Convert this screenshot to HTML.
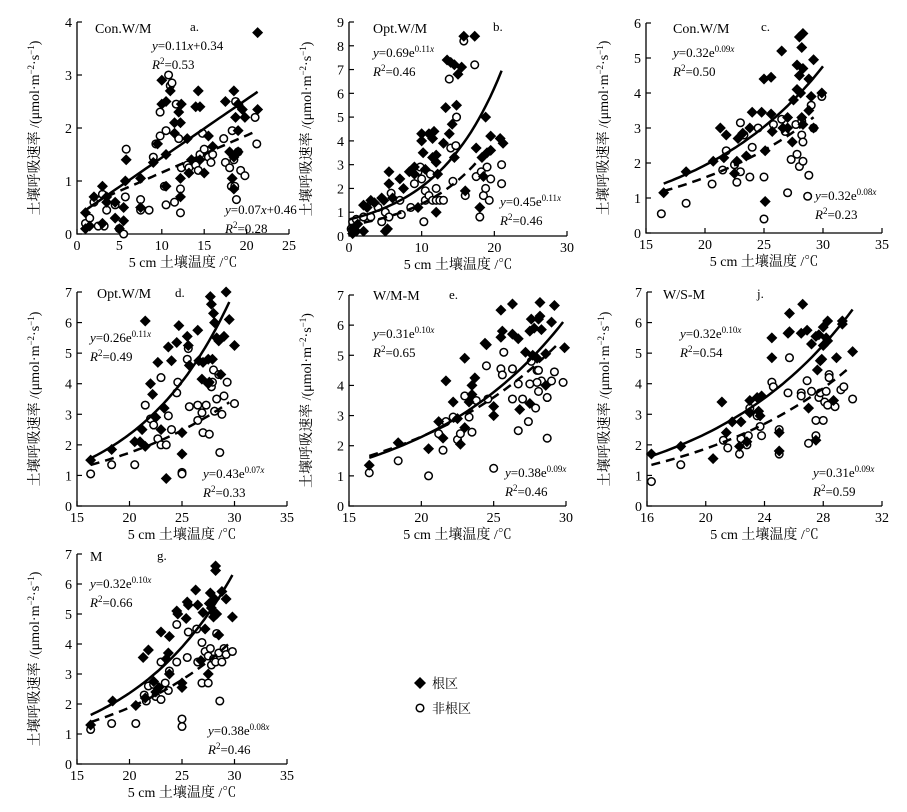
<!DOCTYPE html>
<html><head><meta charset="utf-8">
<style>
html,body{margin:0;padding:0;background:#fff;}
svg{display:block;font-family:"Liberation Serif","Noto Serif CJK SC","Noto Sans CJK SC",serif;}
</style></head>
<body>
<svg id="chart" width="907" height="812" viewBox="0 0 907 812">
  <g>
    <path d="M420,677 L426,683 L420,689 L414,683 Z" fill="#000"/>
    <text x="432" y="688" font-size="13">根区</text>
    <circle cx="420" cy="708" r="3.8" fill="#fff" stroke="#000" stroke-width="1.5"/>
    <text x="432" y="713" font-size="13">非根区</text>
  </g>
</svg>
<script>
// ---- data arrays ----
const panelIds = ['a','b','c','d','e','j','g'];
const panelTitles = ['Con.W/M','Opt.W/M','Con.W/M','Opt.W/M','W/M-M','W/S-M','M'];
const panelLetters = ['a.','b.','c.','d.','e.','j.','g.'];
const xDomains = [[0,25],[0,30],[15,35],[15,35],[15,30],[16,32],[15,35]];
const yDomains = [[0,4],[0,9],[0,6],[0,7],[0,7],[0,7],[0,7]];
const xTickSteps = [5,10,5,5,5,4,5];
const yTickSteps = [1,1,1,1,1,1,1];
// fit types and coefficients (solid = root, dashed = non-root)
const fitTypes = ['lin','exp','exp','exp','exp','exp','exp'];
const rootFitA = [0.11,0.69,0.32,0.26,0.31,0.32,0.32];
const rootFitB = [0.34,0.11,0.09,0.11,0.10,0.10,0.10];
const rootFitRange = [[1,21.3],[0,21],[16.5,30],[16.3,29.5],[16.4,29.8],[16.3,30],[16.3,29.8]];
const nonFitA = [0.07,0.45,0.32,0.43,0.38,0.31,0.38];
const nonFitB = [0.46,0.11,0.08,0.07,0.09,0.09,0.08];
const nonFitRange = [[3.5,21],[0,17.5],[16.5,29.2],[16.3,29.5],[16.4,29.3],[16.3,29.8],[16.3,29.8]];
const rootEqText = ['0.11|x|+0.34','0.69e|0.11x','0.32e|0.09x','0.26e|0.11x','0.31e|0.10x','0.32e|0.10x','0.32e|0.10x'];
const rootR2 = ['0.53','0.46','0.50','0.49','0.65','0.54','0.66'];
const nonEqText = ['0.07|x|+0.46','0.45e|0.11x','0.32e|0.08x','0.43e|0.07x','0.38e|0.09x','0.31e|0.09x','0.38e|0.08x'];
const nonR2 = ['0.28','0.46','0.23','0.33','0.46','0.59','0.46'];

const rootX = [
 [1,1,1.5,2,3,3,3.5,3.5,4.5,4.5,5,5.5,5.5,5.8,5.7,7.5,7.5,9,9.5,10,10,10.5,10.5,10.5,11,11.5,11.5,12,12.2,12.3,12.2,12.2,13,13.2,13.5,14,14.3,14.5,14.5,15,15.5,16,17.5,18,18.5,18.3,18.7,19,19,19,19.5,19.8,21.3,21.3,18.5,18.5],
 [0.5,0.5,1,1.2,2,2,2.5,3,3.5,4.5,4.8,5,5.3,5.5,5.5,6,7,7.5,8.3,9,9,9.5,10,10,10.2,10.5,11,11.5,11.7,11.5,12,12,12,12.2,13,13.3,13.5,13.8,14,14.2,14.5,14.5,14.8,15,15.5,15.8,16,17.3,17.5,18,18.3,18.5,18.8,19,19.5,19.5,20.8,21.2],
 [16.5,18.4,20.7,21.3,21.6,21.8,22.5,22.7,22.8,23.2,23.5,23.8,24,24.8,25,25.1,25.1,25.6,25.6,25.7,26.5,26.6,27,27,27.5,27.8,28,27.8,28,28.2,28.3,28.1,28.2,28.3,28.3,28.8,28.8,29,29.2,29.2,29.9,27.4],
 [16.3,18.3,20.5,21,21.2,21.5,21.5,22,22.2,22.5,22.7,23,23.3,23.5,23.7,24,24.5,24.7,25,25,25.5,25.6,25.7,26.5,26.6,26.9,27,27.5,27.5,27.7,27.8,27.9,28,28.1,28.3,28.5,28.7,29,29.2,29.5,30,27.6],
 [16.4,18.4,20.5,21.2,21.7,21.5,22.2,22.5,22.7,23,23,23.5,23.7,23.5,23.3,24.4,24.5,25,25,25.5,25.5,25.6,26.3,26.3,26.7,26.8,27.2,27.5,27.6,27.8,27.7,28,28.1,28.2,28.2,28.3,28.6,28.6,29,29.2,29.9,27.5],
 [16.3,18.3,20.5,21.1,21.4,21.8,22.3,22.4,22.8,23,23,23.5,23.6,23.7,23.8,24.5,24.5,25,25,25.6,25.7,25.7,26.5,26.6,26.9,27,27.2,27.5,27.6,27.7,27.8,27.9,28,28,28.2,28.3,28.3,28.7,28.9,29.3,29.3,30,27.5],
 [16.3,18.4,20.6,21.3,21.8,21.5,22.3,22.5,22.8,23,23.5,23.7,23.8,23.8,24.5,24.6,25,25,25.4,25.5,25.6,26.3,26.5,26.8,27,27.2,27.5,27.6,27.7,27.8,28,28,28.1,28.2,28.2,28.5,28.8,29.2,29.8,28.3]
];
const rootY = [
 [0.1,0.4,0.15,0.7,0.9,0.2,0.6,0.7,0.6,0.3,0.1,0.5,0.25,1.4,1.0,1.05,0.5,1.35,1.7,2.9,2.45,2.5,1.5,0.9,2.7,2.1,1.9,2.3,2.1,2.45,1.05,0.7,1.8,1.15,1.4,2.4,2.7,2.4,1.4,1.15,1.85,1.65,2.5,1.55,2.7,1.05,2.2,1.55,1.95,2.45,2.35,2.2,3.8,2.35,1.45,0.85],
 [0.1,0.3,0.2,0.5,0.2,1.3,1.2,1.5,1.4,1.6,1.5,0.2,0.3,2.2,2.7,1.6,2.4,2.0,2.7,2.9,2.6,1.2,4.3,4.0,3.5,2.8,4.3,4.1,4.4,3.3,3.4,3.1,1.0,2.6,3.9,5.4,7.4,4.3,7.3,4.7,7.2,3.3,5.5,6.8,7.1,8.4,1.9,8.4,3.7,1.2,3.3,2.5,5.0,3.5,4.2,3.6,4.1,3.9],
 [1.15,1.75,2.05,3.0,2.15,2.8,1.7,2.05,2.7,2.85,2.2,3.0,3.45,3.45,4.4,2.35,0.9,4.45,3.4,2.9,5.2,3.0,3.3,3.0,3.8,4.8,4.5,4.1,5.6,5.3,4.7,4.0,3.3,3.1,5.7,4.4,3.5,3.9,4.95,3.0,4.0,2.6],
 [1.5,1.85,2.1,2.1,2.5,6.05,1.95,4.0,3.65,2.9,4.7,2.5,3.2,0.9,5.2,4.75,5.35,5.9,2.4,1.7,5.55,5.25,4.6,5.75,4.75,4.15,4.7,4.8,4.0,6.85,6.6,4.8,6.3,6.0,5.5,5.4,4.3,5.55,7.0,6.1,5.25,4.05],
 [1.35,2.1,1.9,2.8,4.15,2.25,3.45,2.9,2.05,4.9,2.6,4.0,4.25,3.7,3.45,5.4,5.35,3.3,3.0,6.5,5.6,5.8,6.7,5.7,5.55,3.2,5.1,5.8,6.2,5.9,5.0,4.9,6.2,6.3,6.75,5.85,5.05,4.0,6.1,6.65,5.25,3.4],
 [1.7,1.95,1.55,3.4,2.4,2.75,1.95,2.75,2.1,3.45,3.05,3.55,3.1,2.95,3.6,4.85,5.5,2.4,1.8,5.65,6.3,5.7,5.65,6.6,5.75,3.2,5.3,5.55,4.45,5.6,4.75,4.8,5.85,5.25,5.5,6.05,5.4,3.45,4.85,5.95,6.05,5.05,2.15],
 [1.3,2.1,1.95,3.55,3.8,2.2,2.75,2.4,2.55,4.4,3.5,3.7,3.0,4.25,5.1,5.0,2.7,2.55,4.85,5.4,5.3,5.8,5.3,3.45,5.05,4.5,3.0,5.35,5.7,5.2,5.05,4.9,5.5,6.6,6.45,4.3,5.75,5.5,4.9,5.0]
];
const nonX = [
 [1,1.5,2,2.5,3,3.5,3.2,4.5,5,5.5,5.8,5.7,7.5,7.5,8.5,9,9.3,9.8,9.8,10.3,10.5,10.5,10.8,11,11.2,11.5,11.7,12,12.2,12.2,12.3,13,13.2,14,14.3,14.5,14.8,15,15.5,15.8,16,17.3,17.5,18,18.2,18.3,18.5,18.6,18.8,19,19.3,19.8,21,21.2,18.7],
 [0.3,0.5,1,2,3,4,4.5,5,5.5,5.8,7,7.2,8.5,9,9.5,9.8,10,10.3,10.5,10.5,11,11.2,11.5,12,12,12.5,13,13.8,14,14.3,14.7,14.8,15.8,16,17.3,17.5,18,18.2,18.5,18.8,19,19.3,19.5,21,21],
 [16.3,18.4,20.6,21.5,21.8,22.5,22.7,23,23,23.3,23.8,24,24.5,25,25,25.8,26.5,26.8,27,27.3,27.7,27.8,28,28.2,28.3,28.3,28.8,28.7,29,29.2,29.9,28.2],
 [16.3,18.3,20.5,21.5,22,22.3,22.7,23,23,23.5,23.7,24,24.5,24.6,25,25,25.5,25.6,25.7,26.5,26.5,26.9,27,27.3,27.6,27.8,28,28.1,28.3,28.5,28.6,28.8,29,29.3,30,27.9],
 [16.4,18.4,20.5,21.2,21.5,21.7,22.2,22.5,22.7,23,23.3,23.5,23.8,24.5,24.6,25,25.5,25.6,25.7,26.3,26.3,26.7,26.7,27,27.4,27.5,27.6,27.9,28,28.1,28.1,28.3,28.7,28.7,29,29.2,29.8,28],
 [16.3,18.3,21.2,21.5,22.3,22.4,22.8,22.9,23,23.5,23.7,23.8,24.5,24.6,25,25,25.6,25.7,26.5,26.5,26.9,27,27.2,27.5,27.5,27.7,27.8,28,28.1,28.2,28.3,28.4,28.8,29.2,29.4,30,28.4],
 [16.3,18.3,20.6,21.4,21.6,21.8,22.3,22.5,23,23,23.4,23.7,23.8,24.5,24.5,25,25,25.5,25.6,26.4,26.5,26.9,26.9,27.2,27.5,27.5,27.7,27.8,28,28.2,28.3,28.5,28.6,28.8,29,29.2,29.8]
];
const nonY = [
 [0.2,0.3,0.6,0.15,0.75,0.45,0.15,0.55,0.1,0.0,1.6,0.7,0.65,0.45,0.45,1.45,1.7,2.3,1.85,0.9,1.95,0.55,3.0,2.8,2.85,0.6,2.45,1.8,0.85,0.4,1.25,1.3,1.25,1.3,1.2,1.5,1.9,1.6,1.45,1.35,1.5,1.8,1.35,1.25,0.9,1.95,1.4,0.9,0.65,1.55,1.2,1.1,2.2,1.7,2.5],
 [0.3,0.6,0.7,0.8,0.8,1.2,0.6,1.0,0.8,1.8,1.5,0.9,1.2,2.2,2.7,2.9,2.4,0.6,1.9,1.5,1.7,2.6,1.5,2.0,1.5,1.5,1.5,6.6,3.7,2.3,3.8,5.0,8.2,1.7,7.2,2.5,0.8,2.7,1.7,2.0,2.9,1.5,2.4,3.0,2.2],
 [0.55,0.85,1.4,1.8,2.35,1.95,1.45,1.75,3.15,2.8,1.6,2.45,3.0,1.6,0.4,3.1,3.25,2.9,1.15,2.1,3.1,2.25,1.9,2.8,2.6,2.05,1.65,1.05,3.65,3.0,3.9,3.2],
 [1.05,1.35,1.35,3.3,2.85,2.65,2.2,4.2,2.0,2.0,2.95,2.5,3.7,4.05,1.1,1.05,4.8,5.15,3.25,3.3,2.8,3.05,2.4,3.3,2.35,3.9,4.45,3.1,3.5,4.3,1.75,3.0,3.6,4.05,3.35,4.05],
 [1.1,1.5,1.0,2.4,1.85,2.8,2.95,2.2,2.4,3.65,2.95,2.45,3.5,4.65,3.55,1.25,4.55,4.35,5.1,4.55,3.55,4.05,2.5,3.55,2.8,4.05,4.8,3.25,4.5,3.8,4.5,4.15,2.25,3.6,4.15,4.45,4.1,4.1],
 [0.8,1.35,2.15,1.9,1.7,2.2,2.0,2.3,3.2,2.95,2.6,2.3,4.05,3.9,2.5,1.7,3.7,4.85,3.7,3.6,4.1,2.05,3.75,2.8,2.3,3.55,3.7,2.8,3.4,3.75,3.3,4.3,3.25,3.8,3.9,3.5,4.2],
 [1.15,1.35,1.35,2.3,2.1,2.6,2.65,2.25,3.4,2.15,2.7,2.45,3.1,4.65,3.4,1.5,1.25,3.55,4.4,4.5,3.4,4.05,2.7,3.75,2.7,3.6,3.85,3.3,3.5,3.4,4.35,3.7,2.1,3.4,3.85,3.65,3.75]
];

// ---- layout (pixel frames per panel) ----
const frames = [
 {x0:77,x1:289,y0:234,y1:22},
 {x0:349,x1:567,y0:236,y1:22},
 {x0:646,x1:882,y0:233,y1:23},
 {x0:77,x1:287,y0:506,y1:292},
 {x0:349,x1:566,y0:506,y1:295},
 {x0:647,x1:882,y0:506,y1:292},
 {x0:77,x1:287,y0:764,y1:554}
];
const labelPos = [
 {t:[95,28],l:[190,27],e1:[152,45],e2:[225,209]},
 {t:[373,28],l:[493,27],e1:[373,52],e2:[500,201]},
 {t:[673,28],l:[761,27],e1:[673,52],e2:[815,195]},
 {t:[97,293],l:[175,293],e1:[90,337],e2:[203,473]},
 {t:[373,295],l:[449,295],e1:[373,333],e2:[505,472]},
 {t:[663,294],l:[757,294],e1:[680,333],e2:[813,472]},
 {t:[90,556],l:[157,556],e1:[90,583],e2:[208,730]}
];

const NS='http://www.w3.org/2000/svg';
const svg=document.getElementById('chart');
function mk(tag,attrs,parent){const e=document.createElementNS(NS,tag);for(const k in attrs)e.setAttribute(k,attrs[k]);(parent||svg).appendChild(e);return e;}

function eqText(g,x,y,body,r2,isLin){
  const t=mk('text',{x:x,y:y,'font-size':13},g);
  
  
  const parts=body.split('|');
  let s=mk('tspan',{'font-style':'italic'},t);s.textContent='y';
  s=mk('tspan',{},t);s.textContent='='+parts[0];
  if(isLin){
    s=mk('tspan',{'font-style':'italic'},t);s.textContent='x';
    s=mk('tspan',{},t);s.textContent=parts[2];
  }else{
    const num=parts[1].replace('x','');
    s=mk('tspan',{'font-size':9,dy:-5},t);s.textContent=num;
    s=mk('tspan',{'font-size':9,'font-style':'italic'},t);s.textContent='x';
  }
  const t2=mk('text',{x:x,y:y+19,'font-size':13},g);
  
  
  s=mk('tspan',{'font-style':'italic'},t2);s.textContent='R';
  s=mk('tspan',{'font-size':9,dy:-5},t2);s.textContent='2';
  s=mk('tspan',{dy:5},t2);s.textContent='='+r2;
}

panelIds.forEach((id,i)=>{
  const f=frames[i],xd=xDomains[i],yd=yDomains[i];
  const sx=v=>f.x0+(v-xd[0])/(xd[1]-xd[0])*(f.x1-f.x0);
  const sy=v=>f.y0-(v-yd[0])/(yd[1]-yd[0])*(f.y0-f.y1);
  const g=mk('g',{});
  
  

  // axes
  const ax=mk('path',{d:`M${f.x0},${f.y1} L${f.x0},${f.y0} L${f.x1},${f.y0}`,fill:'none',stroke:'#000','stroke-width':1.3},g);
  
  
  for(let v=xd[0];v<=xd[1]+1e-9;v+=xTickSteps[i]){
    const x=sx(v);
    const tk=mk('line',{x1:x,x2:x,y1:f.y0,y2:f.y0-5,stroke:'#000','stroke-width':1.2},g);
    
    
    const tl=mk('text',{x:x,y:f.y0+16,'font-size':14,'text-anchor':'middle'},g);
    
    
    tl.textContent=v;
  }
  for(let v=yd[0];v<=yd[1]+1e-9;v+=yTickSteps[i]){
    const y=sy(v);
    const tk=mk('line',{x1:f.x0,x2:f.x0+5,y1:y,y2:y,stroke:'#000','stroke-width':1.2},g);
    
    
    const tl=mk('text',{x:f.x0-5,y:y+5,'font-size':14,'text-anchor':'end'},g);
    
    
    tl.textContent=v;
  }
  // axis titles
  const xt=mk('text',{x:(f.x0+f.x1)/2,y:f.y0+33,'font-size':14,'text-anchor':'middle'},g);
  
  
  xt.textContent='5 cm 土壤温度 /℃';
  const cy=(f.y0+f.y1)/2, cxp=f.x0-38;
  const yt=mk('text',{x:cxp,y:cy,'font-size':14,'text-anchor':'middle',transform:`rotate(-90 ${cxp} ${cy})`},g);
  
  
  let s=mk('tspan',{},yt);s.textContent='土壤呼吸速率 /(μmol·m';
  s=mk('tspan',{'font-size':9,dy:-5},yt);s.textContent='−2';
  s=mk('tspan',{dy:5},yt);s.textContent='·s';
  s=mk('tspan',{'font-size':9,dy:-5},yt);s.textContent='−1';
  s=mk('tspan',{dy:5},yt);s.textContent=')';

  // labels
  const lp=labelPos[i];
  const tt=mk('text',{x:lp.t[0],y:lp.t[1]+5,'font-size':14},g);
  
  
  tt.textContent=panelTitles[i];
  const lt=mk('text',{x:lp.l[0],y:lp.l[1]+4,'font-size':13},g);
  
  
  lt.textContent=panelLetters[i];
  const isLin=fitTypes[i]==='lin';
  eqText(g,lp.e1[0],lp.e1[1]+5,rootEqText[i],rootR2[i],isLin);
  eqText(g,lp.e2[0],lp.e2[1]+5,nonEqText[i],nonR2[i],isLin);

  // points: non-root circles first, then diamonds
  nonX[i].forEach((xv,k)=>{
    const c=mk('circle',{cx:sx(xv),cy:sy(nonY[i][k]),r:3.8,fill:'#fff',stroke:'#000','stroke-width':1.5},g);
    
    
  });
  rootX[i].forEach((xv,k)=>{
    const x=sx(xv),y=sy(rootY[i][k]),r=5.5;
    const d=mk('path',{d:`M${x},${y-r} L${x+r},${y} L${x},${y+r} L${x-r},${y} Z`,fill:'#000'},g);
    
    
  });

  // fit curves
  function fitPath(a,b,range){
    let pts=[];const n=40;
    for(let k=0;k<=n;k++){
      const xv=range[0]+(range[1]-range[0])*k/n;
      const yv=isLin?a*xv+b:a*Math.exp(b*xv);
      pts.push(sx(xv).toFixed(1)+','+sy(yv).toFixed(1));
    }
    return 'M'+pts.join(' L');
  }
  const rl=mk('path',{d:fitPath(rootFitA[i],rootFitB[i],rootFitRange[i]),fill:'none',stroke:'#000','stroke-width':2.5},g);
  
  
  const nl=mk('path',{d:fitPath(nonFitA[i],nonFitB[i],nonFitRange[i]),fill:'none',stroke:'#000','stroke-width':2.5,'stroke-dasharray':'9,6'},g);
  
  
});
</script>
</body></html>
